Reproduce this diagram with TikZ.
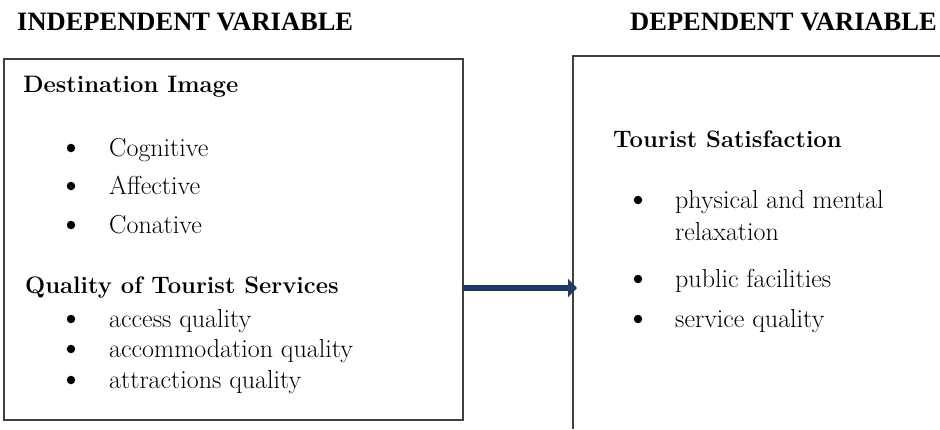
\documentclass[tikz,border=0pt]{standalone}
\usepackage{fontspec}
\newfontfamily\headfont{Liberation Serif}
\usetikzlibrary{arrows.meta}
\definecolor{navy}{HTML}{1F3A68}
\begin{document}
\begin{tikzpicture}[x=1pt,y=-1pt,
  heading/.style={anchor=base west, inner sep=0pt, font=\headfont\bfseries\fontsize{26.5}{30}\selectfont},
  boxtitle/.style={anchor=base west, inner sep=0pt, font=\bfseries\fontsize{23.8}{28}\selectfont},
  item/.style={anchor=base west, inner sep=0pt, font=\fontsize{26}{30}\selectfont},
  frame/.style={draw=black!75, line width=1.6pt},
  dot/.style={circle, fill=black, inner sep=0pt, minimum size=8.5pt},
  link/.style={draw=navy, line width=6pt, -{Triangle[length=9pt,width=18pt]}}]
\useasboundingbox (0,0) rectangle (940,429);

% column headings
\node[heading] (hind) at (17,30) {INDEPENDENT VARIABLE};
\node[heading] (hdep) at (630,30) {DEPENDENT VARIABLE};

% independent variable box
\node[frame, anchor=north west, minimum width=459pt, minimum height=361pt, inner sep=0pt] (left) at (3,58) {};
\node[boxtitle] (di) at (23,92) {Destination Image};
\node[dot] (b1) at (71,148) {};
\node[item] (cog) at (109,156) {Cognitive};
\node[dot] (b2) at (71,186) {};
\node[item] (aff) at (109,194) {Affective};
\node[dot] (b3) at (71,225) {};
\node[item] (con) at (109,233) {Conative};
\node[boxtitle] (qts) at (25,293) {Quality of Tourist Services};
\node[dot] (b4) at (71,319) {};
\node[item] (acc) at (109,327) {access quality};
\node[dot] (b5) at (71,349) {};
\node[item] (acm) at (109,357) {accommodation quality};
\node[dot] (b6) at (71,380) {};
\node[item] (att) at (109,388) {attractions quality};

% dependent variable box (runs off the right and bottom edges)
\draw[frame] (940,56) -| (573,429);
\node[boxtitle] (ts) at (613,147) {Tourist Satisfaction};
\node[dot] (c1) at (638,200) {};
\node[item] (pm) at (675,208) {physical and mental};
\node[item] (rel) at (675,240) {relaxation};
\node[dot] (c2) at (638,279) {};
\node[item] (pf) at (675,287) {public facilities};
\node[dot] (c3) at (638,319) {};
\node[item] (sq) at (675,327) {service quality};

% link between the two variables
\coordinate (from) at (462,288);
\coordinate (to) at (577,288);
\draw[link] (from) -- (to);
\end{tikzpicture}
\end{document}
